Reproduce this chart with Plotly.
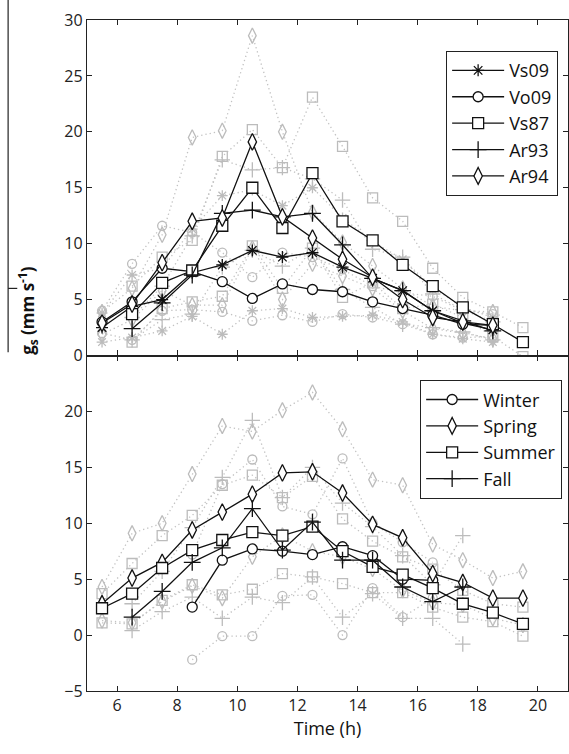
import plotly.graph_objects as go
from plotly.subplots import make_subplots

# ---------------- data ----------------
hours = [5.5, 6.5, 7.5, 8.5, 9.5, 10.5, 11.5, 12.5, 13.5, 14.5, 15.5, 16.5, 17.5, 18.5, 19.5]
top_names = ["Vs09", "Vo09", "Vs87", "Ar93", "Ar94"]
bottom_names = ["Winter", "Spring", "Summer", "Fall"]
x_ticks = [6, 8, 10, 12, 14, 16, 18, 20]
y_ticks_top = [0, 5, 10, 15, 20, 25, 30]
y_ticks_bottom = [-5, 0, 5, 10, 15, 20]

# top panel: mean and upper/lower (gray dotted) values
vs09_mean = [2.5, 4.4, 5.0, 7.4, 8.1, 9.4, 8.8, 9.2, 7.9, 6.9, 5.8, 4.0, 2.9, 2.3, None]
vs09_up = [3.8, 7.2, 7.8, 11.3, 14.3, 14.8, 13.4, 15.0, 12.3, 10.2, 8.6, 6.1, 4.3, 3.4, None]
vs09_lo = [1.2, 1.6, 2.2, 3.5, 1.9, 4.0, 4.2, 3.4, 3.5, 3.6, 3.0, 1.9, 1.5, 1.2, None]

vo09_mean = [3.0, 4.8, 7.8, 7.5, 6.6, 5.1, 6.4, 5.9, 5.7, 4.8, 4.2, 3.6, 2.8, 2.7, None]
vo09_up = [4.0, 8.2, 11.6, 11.0, 9.2, 7.0, 9.2, 8.8, 7.7, 6.2, 5.6, 5.3, 4.0, 3.7, None]
vo09_lo = [2.0, 1.4, 4.0, 4.1, 3.9, 3.1, 3.6, 3.0, 3.7, 3.4, 2.8, 1.9, 1.6, 1.7, None]

vs87_mean = [None, 3.7, 6.5, 7.6, 11.6, 15.0, 11.4, 16.3, 12.0, 10.3, 8.1, 6.2, 4.3, 2.8, 1.2]
vs87_up = [None, 6.2, 8.8, 10.3, 17.8, 20.2, 16.8, 23.1, 18.7, 14.1, 12.0, 7.8, 5.2, 3.9, 2.5]
vs87_lo = [None, 1.2, 4.2, 4.8, 5.3, 9.8, 6.0, 9.6, 5.2, 6.5, 4.2, 4.6, 3.4, 1.7, -0.1]

ar93_mean = [None, 2.4, 4.7, 7.2, 12.7, 13.0, 12.4, 12.7, 9.9, 6.9, 5.8, 4.0, 3.1, 2.2, None]
ar93_up = [None, 3.4, 6.2, 10.7, 17.5, 16.6, 16.8, 15.8, 13.9, 9.5, 8.8, 5.5, 4.1, 3.0, None]
ar93_lo = [None, 1.4, 3.2, 3.7, 7.9, 9.4, 8.0, 9.6, 5.9, 4.3, 2.8, 2.5, 2.1, 1.4, None]

ar94_mean = [2.9, 4.6, 8.3, 12.0, 12.3, 19.1, 12.4, 10.5, 8.6, 7.0, 5.0, 3.4, 3.0, 2.7, None]
ar94_up = [3.9, 6.0, 10.8, 19.5, 20.1, 28.6, 20.0, 12.8, 10.1, 8.0, 6.0, 4.4, 4.0, 3.9, None]
ar94_lo = [1.9, 3.2, 5.8, 4.5, 4.5, 9.6, 5.0, 8.2, 7.1, 6.0, 4.0, 2.4, 2.0, 1.5, None]

# bottom panel
winter_mean = [None, None, None, 2.5, 6.7, 7.7, 7.5, 7.2, 7.9, 7.1, 5.0, 4.9, None, None, None]
winter_up = [None, None, None, 7.2, 13.5, 15.7, 11.5, 10.8, 15.8, 10.0, 8.3, 6.5, None, None, None]
winter_lo = [None, None, None, -2.2, -0.1, -0.1, 3.5, 3.6, 0.0, 4.2, 1.6, 3.3, None, None, None]

spring_mean = [2.8, 5.1, 6.5, 9.4, 11.0, 12.6, 14.5, 14.6, 12.7, 9.9, 8.7, 5.5, 4.7, 3.3, 3.3]
spring_up = [4.3, 9.1, 10.0, 14.4, 18.7, 18.2, 20.1, 21.7, 18.4, 13.9, 13.4, 8.1, 6.7, 5.1, 5.7]
spring_lo = [1.3, 1.1, 3.0, 4.4, 3.3, 7.0, 8.9, 7.5, 7.0, 5.9, 4.0, 2.9, 2.7, 1.5, 0.9]

summer_mean = [2.4, 3.7, 6.0, 7.6, 8.5, 9.2, 8.9, 9.7, 7.5, 6.1, 5.4, 4.2, 2.8, 2.0, 1.0]
summer_up = [3.7, 6.4, 8.9, 10.7, 13.4, 14.3, 12.3, 14.2, 10.4, 8.4, 7.0, 5.9, 4.0, 2.8, 2.5]
summer_lo = [1.1, 1.0, 3.1, 4.5, 3.6, 4.1, 5.5, 5.2, 4.6, 3.8, 3.8, 2.5, 1.6, 1.2, -0.1]

fall_mean = [None, 1.6, 3.9, 6.5, 7.8, 11.3, 7.6, 10.1, 6.7, 6.7, 4.3, 3.0, 4.3, None, None]
fall_up = [None, 2.8, 5.7, 9.6, 14.1, 19.2, 12.3, 15.0, 11.8, 9.7, 7.1, 4.5, 8.9, None, None]
fall_lo = [None, 0.4, 2.1, 3.4, 1.5, 3.4, 2.9, 5.2, 1.6, 3.7, 1.5, 1.5, -0.8, None, None]

top_series = [
    (vs09_mean, vs09_up, vs09_lo),
    (vo09_mean, vo09_up, vo09_lo),
    (vs87_mean, vs87_up, vs87_lo),
    (ar93_mean, ar93_up, ar93_lo),
    (ar94_mean, ar94_up, ar94_lo),
]
bottom_series = [
    (winter_mean, winter_up, winter_lo),
    (spring_mean, spring_up, spring_lo),
    (summer_mean, summer_up, summer_lo),
    (fall_mean, fall_up, fall_lo),
]

# ---------------- styles ----------------
top_symbols = ["asterisk-open", "circle", "square", "cross-thin-open", "diamond-tall"]
top_sizes = [10, 10, 11, 12, 12]
bottom_symbols = ["circle", "diamond-tall", "square", "cross-thin-open"]
bottom_sizes = [10, 12, 11, 12]
GRAY = "#bcbcbc"
GRAY_LINE = "#c2c2c2"
FONT = "Open Sans"

fig = make_subplots(rows=2, cols=1, shared_xaxes=False, vertical_spacing=0)


def add_panel(series, names, symbols, sizes, row, legend):
    # gray dotted bounds first
    for (mean, up, lo), sym, sz in zip(series, symbols, sizes):
        for vals in (up, lo):
            fig.add_trace(go.Scatter(
                x=hours, y=vals, mode="lines+markers", showlegend=False,
                line=dict(color=GRAY_LINE, width=1.3, dash="1.3px,3px"),
                marker=dict(symbol=sym if sym.endswith("-open") else sym + "-open",
                            size=sz - 1, color=GRAY, line=dict(color=GRAY, width=1.3)),
                hoverinfo="skip", connectgaps=False), row=row, col=1)
    for (mean, up, lo), name, sym, sz in zip(series, names, symbols, sizes):
        filled = not sym.endswith("-open")
        fig.add_trace(go.Scatter(
            x=hours, y=mean, mode="lines+markers", name=name, legend=legend,
            line=dict(color="#111111", width=1.3),
            marker=dict(symbol=sym, size=sz,
                        color="white" if filled else "#111111",
                        line=dict(color="#111111", width=1.3)),
            connectgaps=False), row=row, col=1)


add_panel(top_series, top_names, top_symbols, top_sizes, 1, "legend")
add_panel(bottom_series, bottom_names, bottom_symbols, bottom_sizes, 2, "legend2")

axis_common = dict(showline=True, linecolor="#222222", linewidth=1.3, mirror="ticks",
                   ticks="inside", ticklen=5, tickcolor="#222222", showgrid=False,
                   zeroline=False, tickfont=dict(family=FONT, size=16, color="#222222"))

fig.update_xaxes(range=[5, 21], tickvals=x_ticks, **axis_common)
fig.update_xaxes(showticklabels=False, row=1, col=1)
fig.update_xaxes(ticktext=[str(v) for v in x_ticks], row=2, col=1,
                 title=dict(text="Time (h)", font=dict(family=FONT, size=18, color="#111111"),
                            standoff=6))
fig.update_yaxes(range=[0, 30], tickvals=y_ticks_top, row=1, col=1, **axis_common)
fig.update_yaxes(range=[-5, 25], tickvals=y_ticks_bottom, row=2, col=1, **axis_common)

legend_style = dict(bgcolor="white", bordercolor="#222222", borderwidth=1.3,
                    font=dict(family=FONT, size=18, color="#111111"),
                    xanchor="left", yanchor="top", tracegroupgap=0, itemwidth=52)

fig.update_layout(
    width=569, height=754,
    margin=dict(l=87, r=1, t=20, b=63),
    plot_bgcolor="white", paper_bgcolor="white",
    legend=dict(x=0.746, y=0.954, **legend_style),
    legend2=dict(x=0.692, y=0.4635, **legend_style),
    annotations=[dict(
        text="<b>g<sub>s</sub> (mm s<sup>-1</sup>)</b>", textangle=-90,
        xref="paper", yref="paper", x=-0.1227, y=0.568,
        xanchor="center", yanchor="middle", showarrow=False,
        font=dict(family=FONT, size=17, color="#111111"))],
    shapes=[
        dict(type="line", xref="paper", yref="paper", x0=-0.164, x1=-0.164,
             y0=1.03, y1=0.505, line=dict(color="#222222", width=1.2)),
        dict(type="line", xref="paper", yref="paper", x0=-0.164, x1=-0.145,
             y0=0.6, y1=0.6, line=dict(color="#222222", width=1.2)),
    ],
)

fig.write_html("out.html")
